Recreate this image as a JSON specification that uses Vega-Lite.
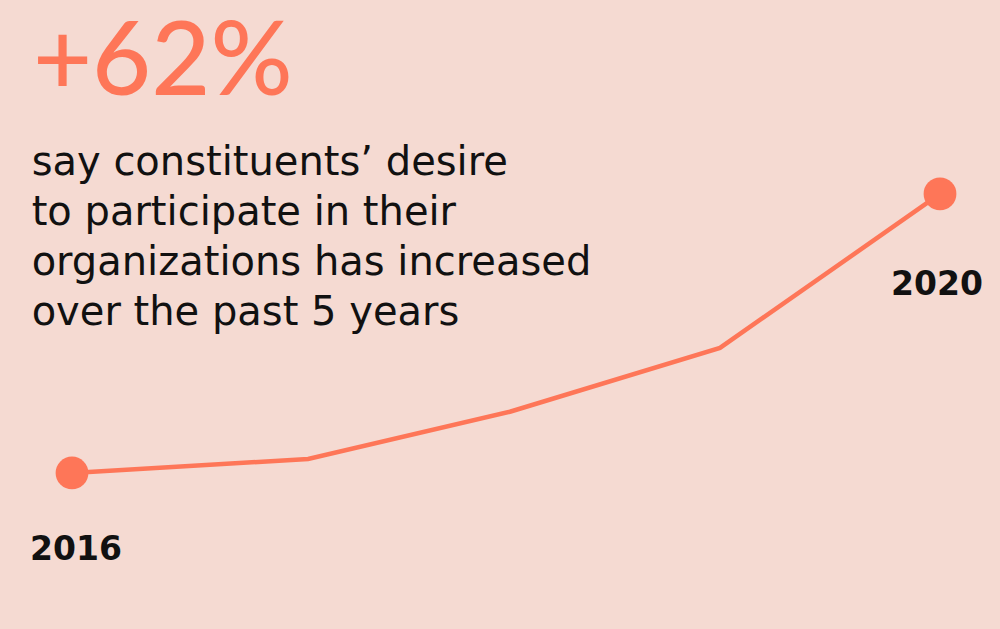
{
  "$schema": "https://vega.github.io/schema/vega-lite/v6.json",
  "width": 1000,
  "height": 629,
  "autosize": {"type": "fit", "contains": "padding"},
  "padding": 0,
  "background": "#f5dad2",
  "config": {"view": {"stroke": null}},
  "datasets": {
    "series": [
      {"year": 2016, "t": 0, "v": 100, "label": "2016"},
      {"year": 2017, "t": 1.088, "v": 103.1, "label": ""},
      {"year": 2018, "t": 2.018, "v": 113.6, "label": ""},
      {"year": 2019, "t": 2.986, "v": 127.8, "label": ""},
      {"year": 2020, "t": 4, "v": 162, "label": "2020"}
    ],
    "notes": [
      {"kind": "headline", "t": -0.18, "v": 184.0, "text": "+62%"},
      {"kind": "body", "t": -0.186, "v": 166.2, "text": "say constituents’ desire\nto participate in their\norganizations has increased\nover the past 5 years"}
    ]
  },
  "encoding": {
    "x": {"field": "t", "type": "quantitative", "scale": {"domain": [-0.3318, 4.2765], "nice": false, "zero": false}, "axis": null},
    "y": {"field": "v", "type": "quantitative", "scale": {"domain": [65.33, 205.1], "nice": false, "zero": false}, "axis": null}
  },
  "layer": [
    {
      "data": {"name": "series"},
      "mark": {"type": "line", "color": "#fe7658", "strokeWidth": 4.5},
      "encoding": {}
    },
    {
      "data": {"name": "series"},
      "transform": [{"filter": "datum.label != ''"}],
      "mark": {"type": "circle", "color": "#fe7658", "opacity": 1, "size": 1075}
    },
    {
      "data": {"name": "series"},
      "transform": [{"filter": "datum.label == '2016'"}],
      "mark": {"type": "text", "font": "DejaVu Sans", "fontWeight": "bold", "fontSize": 33, "color": "#111111", "align": "center", "baseline": "alphabetic", "dx": 4, "dy": 87},
      "encoding": {"text": {"field": "label"}}
    },
    {
      "data": {"name": "series"},
      "transform": [{"filter": "datum.label == '2020'"}],
      "mark": {"type": "text", "font": "DejaVu Sans", "fontWeight": "bold", "fontSize": 33, "color": "#111111", "align": "center", "baseline": "alphabetic", "dx": -3, "dy": 101},
      "encoding": {"text": {"field": "label"}}
    },
    {
      "data": {"name": "notes"},
      "transform": [{"filter": "datum.kind == 'headline'"}],
      "mark": {"type": "text", "font": "Lato", "fontWeight": 500, "fontSize": 102, "color": "#fe7658", "align": "left", "baseline": "alphabetic"},
      "encoding": {"text": {"field": "text"}}
    },
    {
      "data": {"name": "notes"},
      "transform": [{"filter": "datum.kind == 'body'"}],
      "mark": {"type": "text", "font": "DejaVu Sans", "fontSize": 40, "color": "#111111", "align": "left", "baseline": "alphabetic", "lineBreak": "\n", "lineHeight": 50},
      "encoding": {"text": {"field": "text"}}
    }
  ]
}
